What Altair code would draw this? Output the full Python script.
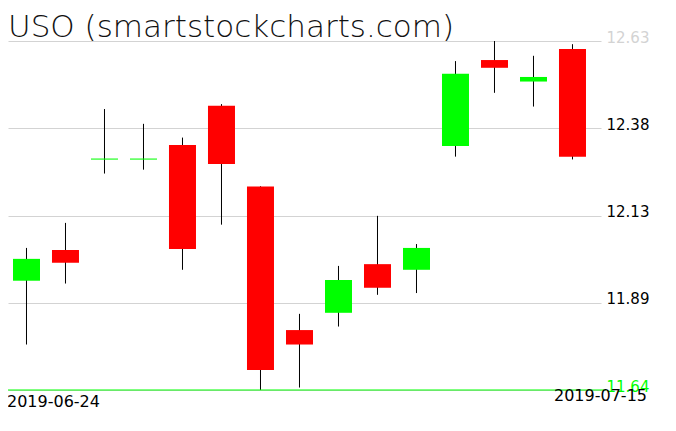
import json
import altair as alt
import pandas as pd

# ---- data ----
title_text = "USO (smartstockcharts.com)"
dates = ["2019-06-24", "2019-06-25", "2019-06-26", "2019-06-27", "2019-06-28",
         "2019-07-01", "2019-07-02", "2019-07-03", "2019-07-05", "2019-07-08",
         "2019-07-09", "2019-07-10", "2019-07-11", "2019-07-12", "2019-07-15"]
opens = [11.950, 12.037, 12.295, 12.295, 12.335, 12.446, 12.217, 11.810, 11.859, 11.997,
         11.981, 12.332, 12.576, 12.515, 12.607]
highs = [12.043, 12.114, 12.437, 12.395, 12.356, 12.451, 12.218, 11.856, 11.992, 12.134,
         12.054, 12.573, 12.630, 12.588, 12.621]
lows = [11.769, 11.942, 12.254, 12.265, 11.981, 12.109, 11.640, 11.647, 11.820, 11.910,
        11.915, 12.302, 12.483, 12.444, 12.294]
closes = [12.012, 12.001, 12.295, 12.295, 12.040, 12.281, 11.697, 11.769, 11.952, 11.930,
          12.043, 12.537, 12.554, 12.528, 12.302]

tick_values = [11.64, 11.8875, 12.135, 12.3825, 12.63]
tick_labels = ["11.64", "11.89", "12.13", "12.38", "12.63"]
y_min, y_max = 11.64, 12.63

df = pd.DataFrame({
    "idx": list(range(len(dates))),
    "date": dates,
    "open": opens,
    "high": highs,
    "low": lows,
    "close": closes,
})
first_df = df.iloc[[0]]
last_df = df.iloc[[-1]]

UP = "#00ff00"
DOWN = "#ff0000"
FONT = "DejaVu Sans"

x_scale = alt.Scale(domain=[-0.474, 14.731], nice=False, zero=False, padding=0)
y_scale = alt.Scale(domain=[y_min, y_max], nice=False, zero=False, padding=0)

x_enc = alt.X("idx:Q", scale=x_scale, axis=None)

label_expr = "%s[round((datum.value - %s) / %s)]" % (
    json.dumps(tick_labels), y_min, (y_max - y_min) / 4)

y_axis = alt.Axis(
    orient="right", values=tick_values, grid=True, gridColor="#d3d3d3", gridWidth=1,
    domain=False, ticks=False, labelPadding=5, labelFont=FONT, labelFontSize=15,
    labelAlign="left", labelBaseline="alphabetic", labelOffset=1,
    labelExpr=label_expr, title=None,
    labelColor={"condition": [{"test": "datum.value > 12.6", "value": "#d3d3d3"},
                              {"test": "datum.value < 11.65", "value": UP}],
                "value": "#000000"},
)

color_cond = alt.condition("datum.close >= datum.open", alt.value(UP), alt.value(DOWN))

base = alt.Chart(df)

wicks = base.mark_rule(color="black", strokeWidth=1).encode(
    x=x_enc,
    y=alt.Y("low:Q", scale=y_scale, axis=y_axis),
    y2="high:Q",
)

bodies = base.mark_bar(size=27).encode(
    x=x_enc,
    y=alt.Y("open:Q", scale=y_scale),
    y2="close:Q",
    color=color_cond,
)

dojis = base.transform_filter("datum.open == datum.close").mark_tick(
    orient="horizontal", size=27, thickness=1.5).encode(
    x=x_enc,
    y=alt.Y("close:Q", scale=y_scale),
    color=color_cond,
)

baseline = alt.Chart(pd.DataFrame({"v": [y_min]})).mark_rule(
    color=UP, strokeWidth=1.2).encode(
    y=alt.Y("v:Q", scale=y_scale),
    x=alt.value(0), x2=alt.value(598),
)

title_mark = alt.Chart(pd.DataFrame({"t": [title_text]})).mark_text(
    align="left", baseline="alphabetic", font=FONT, fontSize=31, fontWeight=200,
    color="#111111").encode(
    x=alt.value(0), y=alt.value(-4), text="t:N")

first_label = alt.Chart(first_df).mark_text(
    align="left", baseline="alphabetic", font=FONT, fontSize=16, color="black",
    dx=-19.5).encode(
    x=x_enc, y=alt.value(366), text="date:N")

last_label = alt.Chart(last_df).mark_text(
    align="right", baseline="alphabetic", font=FONT, fontSize=16, color="black",
    dx=74.5).encode(
    x=x_enc, y=alt.value(360), text="date:N")

chart = alt.layer(wicks, bodies, dojis, baseline, title_mark, first_label,
                  last_label).properties(
    width=593, height=349,
    padding={"left": 0, "top": 33, "right": 62, "bottom": 20},
    autosize=alt.AutoSizeParams(type="none"),
    background="white",
).configure_view(stroke=None)

chart.save("out.html", embed_options={"renderer": "svg", "actions": False})
